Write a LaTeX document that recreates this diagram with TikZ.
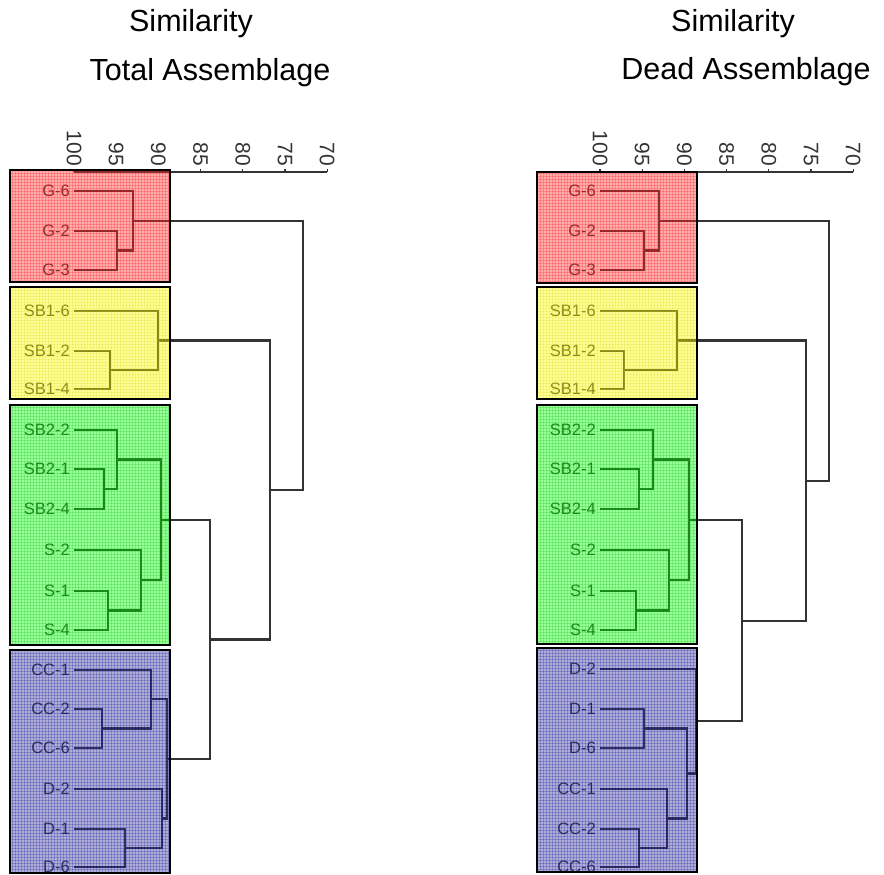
\documentclass[tikz,border=0pt]{standalone}
\usepackage{fontspec}
\setmainfont{Liberation Sans}
\usetikzlibrary{patterns}
\definecolor{inkgray}{HTML}{333333}
\definecolor{tintred}{HTML}{FF3030}
\definecolor{tintyellow}{HTML}{FFFF00}
\definecolor{tintgreen}{HTML}{00FF00}
\definecolor{tintblue}{HTML}{333399}
\tikzset{
  branch/.style={draw=inkgray, line width=2.2},
  axisline/.style={draw=inkgray, line width=1.7},
  leaflabel/.style={anchor=east, inner sep=0, text=inkgray, font=\fontsize{16.5}{16.5}\selectfont},
  ticklabel/.style={rotate=-90, anchor=east, inner sep=0, text=inkgray, font=\fontsize{21}{21}\selectfont},
  title/.style={anchor=base, inner sep=0, text=black, font=\fontsize{30.5}{36}\selectfont},
  tint/.style={fill=#1, fill opacity=0.4},
  mesh/.style={pattern=grid, pattern color=#1, opacity=0.22},
  frame/.style={draw=black, line width=2.2}
}
\begin{document}
\begin{tikzpicture}[x=1pt, y=-1pt]
\useasboundingbox (0,0) rectangle (884,875);

% ---------------- titles ----------------
\node[title] (ttl-l1) at (191,32) {Similarity};
\node[title] (ttl-l2) at (210,81) {Total Assemblage};
\node[title] (ttl-r1) at (733,32) {Similarity};
\node[title] (ttl-r2) at (746,80) {Dead Assemblage};

% ---------------- similarity axes ----------------
\foreach \side/\xo in {L/74, R/600} {
  \coordinate (\side-axa) at (\xo,172);
  \coordinate (\side-axb) at ({\xo+253.2},172);
  \draw[axisline] (\side-axa) -- (\side-axb);
  \foreach \v [count=\i from 0] in {100,95,90,85,80,75,70} {
    \coordinate (\side-tk\i) at ({\xo+42.2*\i},172);
    \draw[axisline, line width=1.3] (\side-tk\i) -- ++(0,-3.5);
    \node[ticklabel] (\side-tl\i) at ({\xo+42.2*\i},166) {\v};
  }
}

% ---------------- left dendrogram: leaves ----------------
\foreach \n/\t/\y in {G6/G-6/191, G2/G-2/231, G3/G-3/270,
                      SBa6/SB1-6/311, SBa2/SB1-2/351, SBa4/SB1-4/389,
                      SBb2/SB2-2/430, SBb1/SB2-1/469, SBb4/SB2-4/509,
                      S2/S-2/550, S1/S-1/591, S4/S-4/630,
                      CC1/CC-1/670, CC2/CC-2/709, CC6/CC-6/748,
                      D2/D-2/789, D1/D-1/829, D6/D-6/867} {
  \coordinate (L-\n) at (74,\y);
  \node[leaflabel] (L-\n-txt) at (70,\y) {\t};
}

% left dendrogram: merge points
\coordinate (L-G23)  at (117,250.5);
\coordinate (L-G)    at (133,220.8);
\coordinate (L-SBa24) at (110,370);
\coordinate (L-SBa)  at (158,340.5);
\coordinate (L-SBb14) at (104,489);
\coordinate (L-SBb)  at (117,459.5);
\coordinate (L-S14)  at (108,610.5);
\coordinate (L-S)    at (141,580.3);
\coordinate (L-grn)  at (161,519.9);
\coordinate (L-CC26) at (102,728.5);
\coordinate (L-CC)   at (151,699.3);
\coordinate (L-D16)  at (125,848);
\coordinate (L-D)    at (162,818.5);
\coordinate (L-blu)  at (167,758.9);
\coordinate (L-gb)   at (210,639.4);
\coordinate (L-ygb)  at (270,490);
\coordinate (L-root) at (303,355.4);

\draw[branch] (L-G2) -| (L-G23) |- (L-G3);
\draw[branch] (L-G6) -| (L-G) |- (L-G23);
\draw[branch] (L-SBa2) -| (L-SBa24) |- (L-SBa4);
\draw[branch] (L-SBa6) -| (L-SBa) |- (L-SBa24);
\draw[branch] (L-SBb1) -| (L-SBb14) |- (L-SBb4);
\draw[branch] (L-SBb2) -| (L-SBb) |- (L-SBb14);
\draw[branch] (L-S1) -| (L-S14) |- (L-S4);
\draw[branch] (L-S2) -| (L-S) |- (L-S14);
\draw[branch] (L-SBb) -| (L-grn) |- (L-S);
\draw[branch] (L-CC2) -| (L-CC26) |- (L-CC6);
\draw[branch] (L-CC1) -| (L-CC) |- (L-CC26);
\draw[branch] (L-D1) -| (L-D16) |- (L-D6);
\draw[branch] (L-D2) -| (L-D) |- (L-D16);
\draw[branch] (L-CC) -| (L-blu) |- (L-D);
\draw[branch] (L-grn) -| (L-gb) |- (L-blu);
\draw[branch] (L-SBa) -| (L-ygb) |- (L-gb);
\draw[branch] (L-G) -| (L-root) |- (L-ygb);

% ---------------- right dendrogram: leaves ----------------
\foreach \n/\t/\y in {G6/G-6/191, G2/G-2/231, G3/G-3/270,
                      SBa6/SB1-6/311, SBa2/SB1-2/351, SBa4/SB1-4/389,
                      SBb2/SB2-2/430, SBb1/SB2-1/469, SBb4/SB2-4/509,
                      S2/S-2/550, S1/S-1/591, S4/S-4/630,
                      D2/D-2/669, D1/D-1/709, D6/D-6/748,
                      CC1/CC-1/789, CC2/CC-2/829, CC6/CC-6/867} {
  \coordinate (R-\n) at (600,\y);
  \node[leaflabel] (R-\n-txt) at (596,\y) {\t};
}

% right dendrogram: merge points
\coordinate (R-G23)  at (644,250.5);
\coordinate (R-G)    at (659,220.8);
\coordinate (R-SBa24) at (624,370);
\coordinate (R-SBa)  at (677,340.5);
\coordinate (R-SBb14) at (639,489);
\coordinate (R-SBb)  at (653,459.5);
\coordinate (R-S14)  at (636,610.5);
\coordinate (R-S)    at (669,580.3);
\coordinate (R-grn)  at (689,519.9);
\coordinate (R-D16)  at (644,728.5);
\coordinate (R-CC26) at (639,848);
\coordinate (R-CC)   at (667,818.5);
\coordinate (R-dcc)  at (687,773.5);
\coordinate (R-blu)  at (696,721.3);
\coordinate (R-gb)   at (742,620.6);
\coordinate (R-ygb)  at (806,480.6);
\coordinate (R-root) at (829,350.7);

\draw[branch] (R-G2) -| (R-G23) |- (R-G3);
\draw[branch] (R-G6) -| (R-G) |- (R-G23);
\draw[branch] (R-SBa2) -| (R-SBa24) |- (R-SBa4);
\draw[branch] (R-SBa6) -| (R-SBa) |- (R-SBa24);
\draw[branch] (R-SBb1) -| (R-SBb14) |- (R-SBb4);
\draw[branch] (R-SBb2) -| (R-SBb) |- (R-SBb14);
\draw[branch] (R-S1) -| (R-S14) |- (R-S4);
\draw[branch] (R-S2) -| (R-S) |- (R-S14);
\draw[branch] (R-SBb) -| (R-grn) |- (R-S);
\draw[branch] (R-D1) -| (R-D16) |- (R-D6);
\draw[branch] (R-CC2) -| (R-CC26) |- (R-CC6);
\draw[branch] (R-CC1) -| (R-CC) |- (R-CC26);
\draw[branch] (R-D16) -| (R-dcc) |- (R-CC);
\draw[branch] (R-D2) -| (R-blu) |- (R-dcc);
\draw[branch] (R-grn) -| (R-gb) |- (R-blu);
\draw[branch] (R-SBa) -| (R-ygb) |- (R-gb);
\draw[branch] (R-G) -| (R-root) |- (R-ygb);

% ---------------- translucent, meshed group boxes ----------------
\foreach \side/\xa/\xb/\ya/\yb/\yc/\yd/\ye/\yf/\yg/\yh in
    {L/10/170/170/282/287/399/405/645/650/873,
     R/537/697/172/283/287/399/405/644/648/872} {
  \path[tint=tintred]    (\xa,\ya) rectangle (\xb,\yb);
  \path[tint=tintyellow] (\xa,\yc) rectangle (\xb,\yd);
  \path[tint=tintgreen]  (\xa,\ye) rectangle (\xb,\yf);
  \path[tint=tintblue]   (\xa,\yg) rectangle (\xb,\yh);
  \path[mesh=red]        (\xa,\ya) rectangle (\xb,\yb);
  \path[mesh=yellow!80!black] (\xa,\yc) rectangle (\xb,\yd);
  \path[mesh=green!70!black]  (\xa,\ye) rectangle (\xb,\yf);
  \path[mesh=blue!60!black]   (\xa,\yg) rectangle (\xb,\yh);
  \draw[frame] (\xa,\ya) rectangle (\xb,\yb);
  \draw[frame] (\xa,\yc) rectangle (\xb,\yd);
  \draw[frame] (\xa,\ye) rectangle (\xb,\yf);
  \draw[frame] (\xa,\yg) rectangle (\xb,\yh);
}
\end{tikzpicture}
\end{document}
